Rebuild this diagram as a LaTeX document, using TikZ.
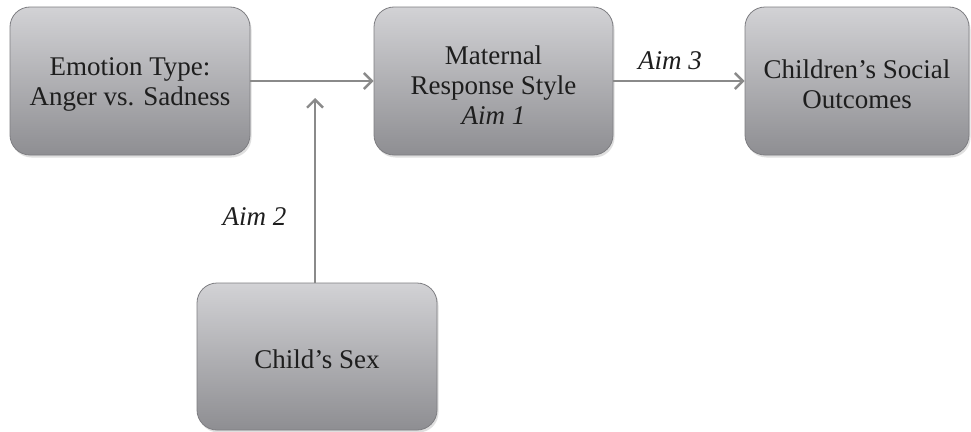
\documentclass[tikz,border=0pt]{standalone}
\usepackage{fontspec}
\setmainfont{Liberation Serif}
\usetikzlibrary{arrows.meta,shadows}
\definecolor{boxtop}{HTML}{D2D2D5}
\definecolor{boxbot}{HTML}{8E8E92}
\definecolor{boxline}{HTML}{7E7E82}
\definecolor{arrowc}{HTML}{8A8A8A}
\definecolor{txt}{HTML}{1E1E1E}
\tikzset{
  box/.style={draw=boxline, line width=0.8pt, rounded corners=20pt,
    top color=boxtop, bottom color=boxbot,
    drop shadow={opacity=0.25, shadow xshift=1.5pt, shadow yshift=-2.5pt},
    inner sep=0pt},
  boxtext/.style={align=center, text=txt, inner sep=0pt, yshift=-3pt,
    font=\fontsize{27}{30}\selectfont},
  conn/.style={draw=arrowc, line width=2.6pt,
    -{Straight Barb[length=8pt, width=16pt, line width=2.4pt]}},
  lab/.style={text=txt, font=\fontsize{27}{30}\selectfont\itshape}
}
\begin{document}
\begin{tikzpicture}[x=1pt,y=-1pt]
\path[use as bounding box, fill=white] (0,0) rectangle (971,431);
\node[box, minimum width=240pt, minimum height=148pt,
  label={[boxtext]center:{Emotion Type:\\Anger vs. Sadness}}] (emo) at (130,81) {};
\node[box, minimum width=239pt, minimum height=148pt,
  label={[boxtext, yshift=-1pt]center:{Maternal\\Response Style\\\textit{Aim 1}}}] (mat) at (493.5,81) {};
\node[box, minimum width=224pt, minimum height=148pt,
  label={[boxtext]center:{Children’s Social\\Outcomes}}] (out) at (857,81) {};
\node[box, minimum width=240pt, minimum height=147pt,
  label={[boxtext]center:{Child’s Sex}}] (sex) at (317,356.5) {};
\coordinate (mod) at (315,98);
\draw[conn] (emo.east) -- (mat.west);
\draw[conn] (mat.east) -- node[lab, above=7pt, xshift=-9pt] {Aim 3} (out.west);
\draw[conn] (sex.north -| mod) -- node[lab, left=24pt, pos=0.36] {Aim 2} (mod);
\end{tikzpicture}
\end{document}
